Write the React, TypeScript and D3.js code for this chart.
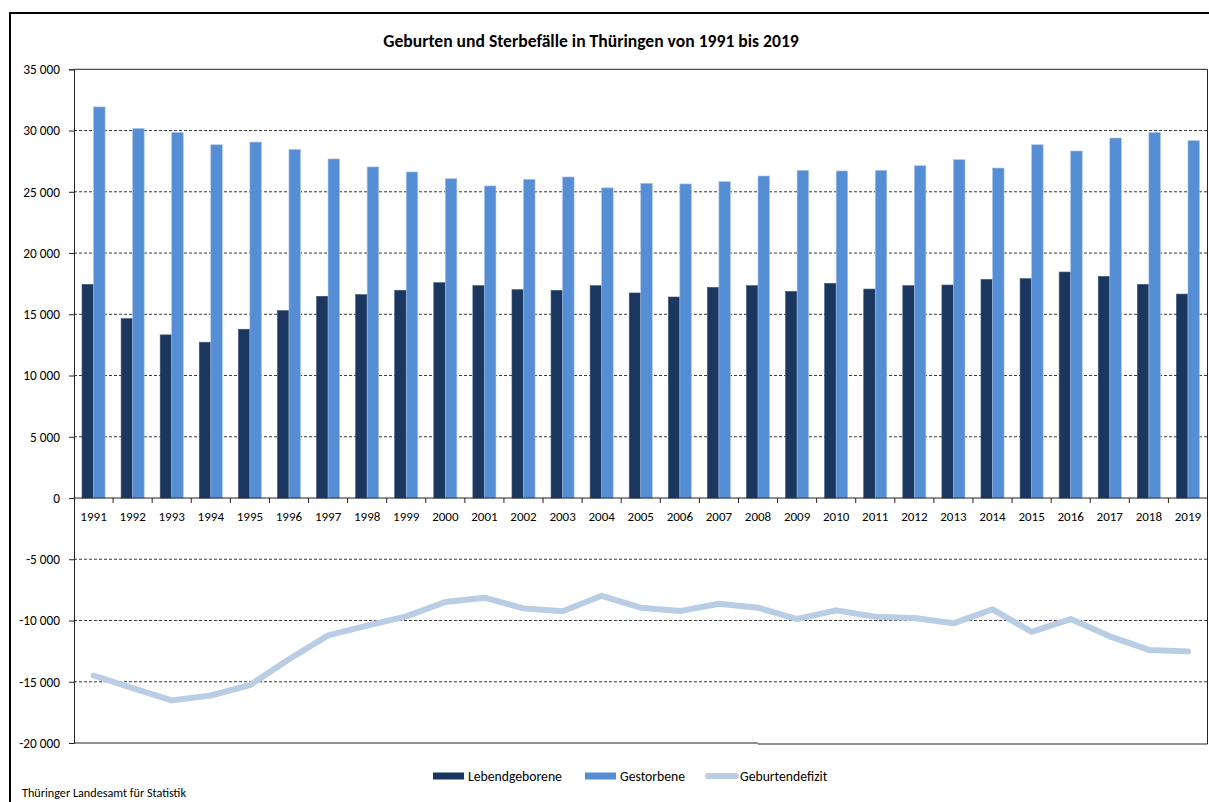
import React, { useEffect, useRef } from 'react';
import * as d3 from 'd3';

// Werte
const years = [
  '1991', '1992', '1993', '1994', '1995', '1996', '1997', '1998', '1999', '2000',
  '2001', '2002', '2003', '2004', '2005', '2006', '2007', '2008', '2009', '2010',
  '2011', '2012', '2013', '2014', '2015', '2016', '2017', '2018', '2019',
];

const lebendgeborene = [
  17440, 14650, 13320, 12720, 13780, 15300, 16470, 16610, 16960, 17580,
  17340, 17010, 16960, 17340, 16740, 16410, 17200, 17340, 16870, 17530,
  17060, 17340, 17390, 17850, 17910, 18450, 18100, 17440, 16650,
];

const gestorbene = [
  31930, 30170, 29840, 28840, 29060, 28460, 27680, 27030, 26620, 26070,
  25480, 26020, 26210, 25320, 25690, 25640, 25830, 26290, 26750, 26700,
  26750, 27130, 27620, 26940, 28840, 28330, 29390, 29840, 29170,
];

const geburtendefizit = [
  -14490, -15520, -16520, -16120, -15280, -13160, -11210, -10420, -9660, -8490,
  -8140, -9010, -9250, -7980, -8950, -9230, -8630, -8950, -9880, -9170,
  -9690, -9790, -10230, -9090, -10930, -9880, -11290, -12400, -12520,
];

const yTicks = [-20000, -15000, -10000, -5000, 0, 5000, 10000, 15000, 20000, 25000, 30000, 35000];

const seriesNames = ['Lebendgeborene', 'Gestorbene', 'Geburtendefizit'];
const colors = ['#1b375f', '#558ed5', '#b9cde5'];

const FONT = "Carlito, Calibri, Lato, 'Open Sans', sans-serif";

export default function App() {
  const svgRef = useRef<SVGSVGElement>(null);

  useEffect(() => {
    if (!svgRef.current) return;
    const svg = d3.select(svgRef.current);
    svg.selectAll('*').remove();

    const W = 1209;
    const H = 802;
    const left = 74;
    const right = 1207.5;
    const top = 69.3;
    const bottom = 743;

    svg.attr('width', W).attr('height', H).style('font-family', FONT);

    // outer frame
    svg.append('rect')
      .attr('x', 10).attr('y', 13)
      .attr('width', W + 20).attr('height', H + 20)
      .attr('fill', 'white')
      .attr('stroke', '#000')
      .attr('stroke-width', 2);

    const x = d3.scaleBand<string>()
      .domain(years)
      .range([left, right])
      .paddingInner(0.41)
      .paddingOuter(0.205);

    const sub = d3.scaleBand<number>()
      .domain([0, 1])
      .range([0, x.bandwidth()]);

    const y = d3.scaleLinear()
      .domain([-20000, 35000])
      .range([bottom, top]);

    // gridlines
    svg.append('g')
      .selectAll('line')
      .data(yTicks.filter(t => t !== 0 && t !== 35000 && t !== -20000))
      .join('line')
      .attr('x1', left).attr('x2', right)
      .attr('y1', d => y(d)).attr('y2', d => y(d))
      .attr('stroke', '#3a3a3a')
      .attr('stroke-width', 1)
      .attr('stroke-dasharray', '3,2');

    // bars
    const groups = svg.append('g')
      .selectAll('g')
      .data(years)
      .join('g')
      .attr('transform', d => `translate(${x(d)},0)`);

    groups.append('rect')
      .attr('x', sub(0)!)
      .attr('width', sub.bandwidth())
      .attr('y', (d, i) => y(lebendgeborene[i]))
      .attr('height', (d, i) => y(0) - y(lebendgeborene[i]))
      .attr('fill', colors[0])
      .attr('stroke', '#3d5878')
      .attr('stroke-width', 0.6);

    groups.append('rect')
      .attr('x', sub(1)!)
      .attr('width', sub.bandwidth())
      .attr('y', (d, i) => y(gestorbene[i]))
      .attr('height', (d, i) => y(0) - y(gestorbene[i]))
      .attr('fill', colors[1])
      .attr('stroke', '#a8c4ea')
      .attr('stroke-width', 0.6);

    // deficit line
    const line = d3.line<number>()
      .x((d, i) => x(years[i])! + x.bandwidth() / 2)
      .y(d => y(d));

    svg.append('path')
      .datum(geburtendefizit)
      .attr('d', line)
      .attr('fill', 'none')
      .attr('stroke', colors[2])
      .attr('stroke-width', 6)
      .attr('stroke-linejoin', 'round')
      .attr('stroke-linecap', 'round');

    // plot border
    const border = svg.append('g').attr('stroke', '#222').attr('stroke-width', 1).attr('fill', 'none');
    border.append('line').attr('x1', left).attr('x2', right).attr('y1', top).attr('y2', top);
    border.append('line').attr('x1', right).attr('x2', right).attr('y1', top).attr('y2', bottom + 1);
    border.append('line').attr('x1', left).attr('x2', 758).attr('y1', bottom).attr('y2', bottom);
    border.append('line').attr('x1', 758).attr('x2', right).attr('y1', bottom + 1).attr('y2', bottom + 1);

    // y axis
    const yAxis = svg.append('g')
      .attr('transform', `translate(${left},0)`)
      .call(d3.axisLeft(y)
        .tickValues(yTicks)
        .tickSize(5)
        .tickPadding(9)
        .tickFormat(d => d3.format(',')(d as number).replace(/,/g, ' ').replace('−', '-')));
    yAxis.select('.domain').attr('stroke', '#222');
    yAxis.selectAll('.tick line').attr('stroke', '#222');
    yAxis.selectAll('.tick text')
      .attr('fill', '#000')
      .style('font-size', '13.3px')
      .style('font-family', FONT);

    // x axis at zero
    const zero = y(0);
    svg.append('line')
      .attr('x1', left).attr('x2', right)
      .attr('y1', zero).attr('y2', zero)
      .attr('stroke', '#222');

    svg.append('g')
      .selectAll('line')
      .data(years.slice(1))
      .join('line')
      .attr('x1', d => x(d)! - x.step() * x.paddingInner() / 2)
      .attr('x2', d => x(d)! - x.step() * x.paddingInner() / 2)
      .attr('y1', zero).attr('y2', zero + 5)
      .attr('stroke', '#222');

    svg.append('g')
      .selectAll('text')
      .data(years)
      .join('text')
      .attr('x', d => x(d)! + x.bandwidth() / 2)
      .attr('y', zero + 23)
      .attr('text-anchor', 'middle')
      .style('font-size', '13px')
      .attr('fill', '#000')
      .text(d => d);

    // title
    svg.append('text')
      .attr('x', 591)
      .attr('y', 47)
      .attr('text-anchor', 'middle')
      .style('font-size', '17.6px')
      .style('font-weight', 'bold')
      .attr('fill', '#000')
      .text('Geburten und Sterbefälle in Thüringen von 1991 bis 2019');

    // legend
    const legendItems = [
      { x: 433, label: seriesNames[0], color: colors[0], type: 'rect' },
      { x: 585, label: seriesNames[1], color: colors[1], type: 'rect' },
      { x: 705, label: seriesNames[2], color: colors[2], type: 'line' },
    ];
    const ly = 776;
    const legend = svg.append('g');
    legendItems.forEach(item => {
      if (item.type === 'rect') {
        legend.append('rect')
          .attr('x', item.x).attr('y', ly - 3.5)
          .attr('width', 31).attr('height', 7)
          .attr('fill', item.color);
      } else {
        legend.append('line')
          .attr('x1', item.x + 3).attr('x2', item.x + 31)
          .attr('y1', ly).attr('y2', ly)
          .attr('stroke', item.color)
          .attr('stroke-width', 6)
          .attr('stroke-linecap', 'round');
      }
      legend.append('text')
        .attr('x', item.x + 35)
        .attr('y', ly + 5)
        .style('font-size', '13.7px')
        .attr('fill', '#000')
        .text(item.label);
    });

    // source
    svg.append('text')
      .attr('x', 22)
      .attr('y', 797)
      .style('font-size', '12.2px')
      .attr('fill', '#000')
      .text('Thüringer Landesamt für Statistik');
  }, []);

  return (
    <svg
      ref={svgRef}
      style={{ position: 'absolute', left: 0, top: 0, display: 'block', background: '#fff' }}
    />
  );
}
